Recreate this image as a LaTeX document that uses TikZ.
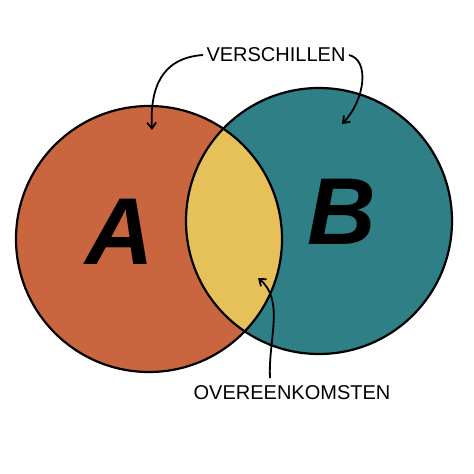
\documentclass[tikz,border=0pt]{standalone}
\usepackage{fontspec}
\setmainfont{Liberation Sans}
\usetikzlibrary{arrows.meta}
\definecolor{cA}{HTML}{C9663F}
\definecolor{cB}{HTML}{2E7F86}
\definecolor{cI}{HTML}{E6C15A}
\begin{document}
\begin{tikzpicture}[x=1pt,y=-1pt,
  ring/.style={line width=2.2pt,draw=black},
  lab/.style={font=\fontsize{20}{21}\selectfont},
  big/.style={font=\fontsize{95}{95}\selectfont\bfseries\itshape},
  arr/.style={line width=1.8pt,-{Straight Barb[length=6pt,width=9pt]}}]
\useasboundingbox (0,0) rectangle (474,474);
\fill[white] (0,0) rectangle (474,474);
\fill[cA] (149,239) circle (133);
\fill[cB] (319,221) circle (133);
\begin{scope}
\clip (149,239) circle (133);
\fill[cI] (319,221) circle (133);
\end{scope}
\draw[ring] (149,239) circle (133);
\draw[ring] (319,221) circle (133);
\node[big] (A) at (120,232) {A};
\node[big] (B) at (342,212) {B};
\node[lab] (V) at (276,55) {VERSCHILLEN};
\node[lab] (O) at (292,393) {OVEREENKOMSTEN};
\coordinate (o0) at (270,378);
\coordinate (v1) at (152,130);
\coordinate (v2) at (342,124);
\coordinate (o1) at (258,278);
\draw[arr] (V.west) .. controls (160,58) and (150,90) .. (v1);
\draw[arr] (V.east) .. controls (370,60) and (365,100) .. (v2);
\draw[arr] (o0) .. controls (268,340) and (285,300) .. (o1);
\end{tikzpicture}
\end{document}
